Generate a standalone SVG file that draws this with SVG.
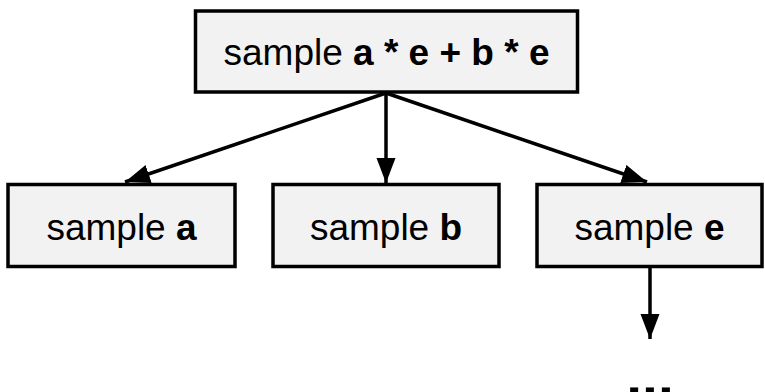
<svg xmlns="http://www.w3.org/2000/svg" width="765" height="392" viewBox="0 0 765 392">
  <style>
    .box { fill: #f2f2f2; stroke: #000; stroke-width: 3.5; }
    .lbl { font-family: "Liberation Sans", Arial, sans-serif; font-size: 37px; fill: #000; text-anchor: middle; }
    .b { font-weight: bold; }
    .edge { stroke: #000; stroke-width: 3.5; fill: none; marker-end: url(#head); }
  </style>
  <defs>
    <marker id="head" markerUnits="userSpaceOnUse" markerWidth="26" markerHeight="20" refX="25" refY="9.5" orient="auto">
      <path d="M0,0 L25,9.5 L0,19 Z" fill="#000"/>
    </marker>
  </defs>

  <g id="connectors">
    <line class="edge" x1="386" y1="93" x2="125" y2="182"/>
    <line class="edge" x1="386" y1="93" x2="386" y2="183"/>
    <line class="edge" x1="386" y1="93" x2="647" y2="182"/>
    <line class="edge" x1="650" y1="268" x2="650" y2="339"/>
  </g>

  <g id="root">
    <rect class="box" x="195.5" y="11" width="382" height="81"/>
    <text class="lbl" x="386.5" y="65">sample <tspan class="b">a * e + b * e</tspan></text>
  </g>

  <g id="node-a">
    <rect class="box" x="8" y="184.5" width="227" height="82"/>
    <text class="lbl" x="121.5" y="240">sample <tspan class="b">a</tspan></text>
  </g>

  <g id="node-b">
    <rect class="box" x="273" y="184.5" width="226" height="82"/>
    <text class="lbl" x="386" y="240">sample <tspan class="b">b</tspan></text>
  </g>

  <g id="node-e">
    <rect class="box" x="537" y="184.5" width="225" height="82"/>
    <text class="lbl" x="649.5" y="240">sample <tspan class="b">e</tspan></text>
  </g>

  <g id="more">
    <text class="lbl b" x="650" y="396" style="font-size:57px">...</text>
  </g>
</svg>
